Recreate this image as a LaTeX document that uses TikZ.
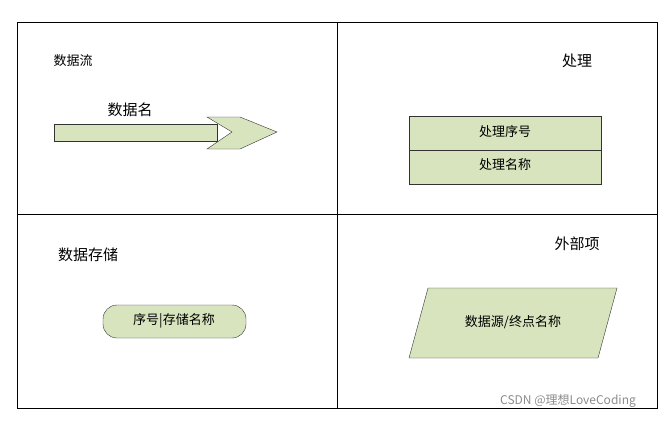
\documentclass[tikz,border=0pt]{standalone}
\usepackage{fontspec}
\setmainfont{Noto Sans CJK SC}
\begin{document}
\begin{tikzpicture}[x=1pt,y=-1pt,
  box/.style={draw=black!80,fill=green!15!olive!20!white,line width=0.8pt},
  lbl/.style={font=\fontsize{15}{17}\selectfont,inner sep=0pt},
  sm/.style={font=\fontsize{13}{15}\selectfont,inner sep=0pt}]
\definecolor{gf}{HTML}{D7E4BD}
\useasboundingbox (0,0) rectangle (671,420);
\draw[line width=0.8pt] (17,22) rectangle (657,408);
\draw[line width=0.8pt] (337,22) -- (337,408);
\draw[line width=0.8pt] (17,214) -- (657,214);
\node[sm] (t1) at (73,61) {数据流};
\node[lbl] (t2) at (577,61) {处理};
\node[lbl] (t3) at (130,110) {数据名};
\node[lbl] (t4) at (88,255) {数据存储};
\node[lbl] (t5) at (577,244) {外部项};
\draw[fill=gf,draw=black!80] (54,124) rectangle (217,141);
\draw[fill=gf,draw=black!80] (207,117) -- (240,117) -- (277,132) -- (240,149) -- (207,149) -- (232,132) -- cycle;
\draw[fill=gf,draw=black!80] (409,116) rectangle (601,184);
\draw[draw=black!80] (409,150) -- (601,150);
\node[sm] (p1) at (505,132) {处理序号};
\node[sm] (p2) at (505,165) {处理名称};
\draw[fill=gf,draw=black!80,rounded corners=14pt] (103,305) rectangle (246,338);
\node[sm] (s1) at (174,321) {序号|存储名称};
\draw[fill=gf,draw=black!80] (409,358) -- (428,288) -- (617,288) -- (598,358) -- cycle;
\node[sm] (e1) at (513,322) {数据源/终点名称};
\node[font=\fontsize{12}{14}\selectfont,text=black!45,inner sep=0pt] (w) at (568,401) {CSDN @理想LoveCoding};
\end{tikzpicture}
\end{document}
